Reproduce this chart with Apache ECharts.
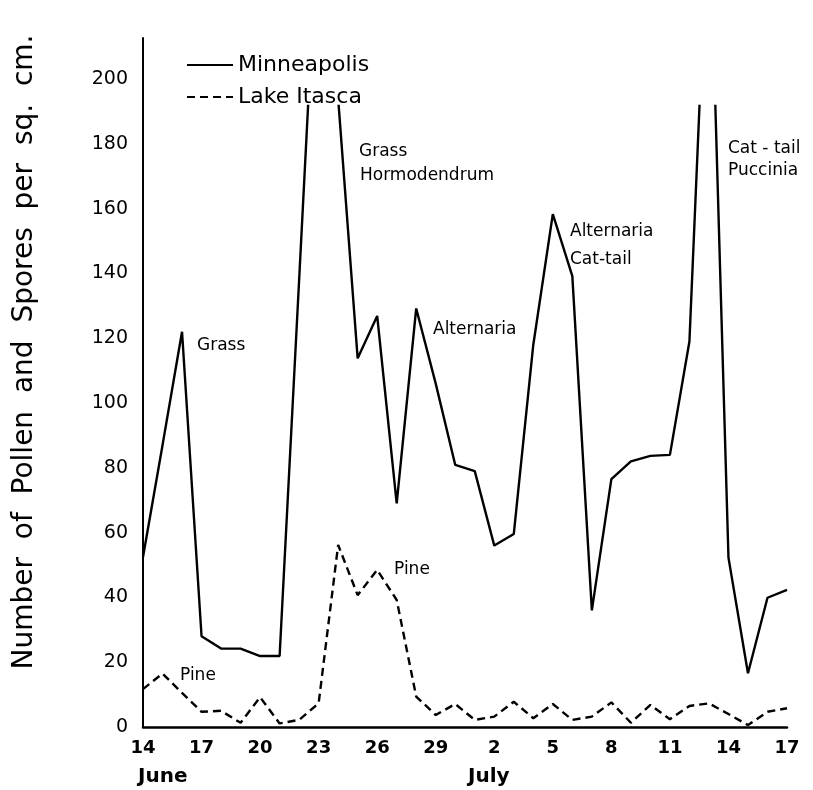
<!DOCTYPE html>
<html lang="en">
<head>
<meta charset="UTF-8">
<title>Pollen and Spores</title>
<script src="https://cdn.jsdelivr.net/npm/echarts@6/dist/echarts.min.js"></script>
<style>
  html, body { margin: 0; padding: 0; background: #fff; }
  #main { width: 813px; height: 790px; }
</style>
</head>
<body>
<div id="main"></div>
<script>
// one value per day, 14 June .. 17 July
var days = ['14','15','16','17','18','19','20','21','22','23','24','25','26','27','28','29','30',
            '1','2','3','4','5','6','7','8','9','10','11','12','13','14','15','16','17'];
var months = ['June', 'July'];
// Minneapolis: peaks above ~192 run off the top of the drawing
var minneapolis = [52.5, 87, 122, 28, 24.2, 24.2, 21.9, 21.9, 138, 255, 194, 113.8, 126.9, 69, 129.2, 106, 80.9,
                   79, 56, 59.6, 118, 158.3, 139.2, 36, 76.5, 82, 83.7, 84, 119, 260, 52.3, 16.6, 39.9, 42.3];
var lakeItasca = [11.7, 16.5, 10.5, 4.7, 5, 1.3, 9.2, 1.1, 2.2, 7.3, 56.2, 40.7, 48.5, 39.2, 9.4, 3.7, 7.1,
                  2.2, 3.2, 7.8, 2.7, 7.1, 2.2, 3.2, 7.6, 1.3, 6.8, 2.4, 6.5, 7.3, 4, 0.6, 4.7, 5.8];

var FONT = '"DejaVu Sans", "Liberation Sans", sans-serif';
var yTop = 212.7;   // top of drawn axis
var yClip = 191.7;  // where the curves stop

var chart = echarts.init(document.getElementById('main'));

// notes written beside the peaks
var notes = [
  {t: 'Grass', x: 197, y: 346},
  {t: 'Grass', x: 359, y: 152},
  {t: 'Hormodendrum', x: 360, y: 176},
  {t: 'Alternaria', x: 433, y: 330},
  {t: 'Alternaria', x: 570, y: 232},
  {t: 'Cat-tail', x: 570, y: 260},
  {t: 'Cat - tail', x: 728, y: 149},
  {t: 'Puccinia', x: 728, y: 171},
  {t: 'Pine', x: 180, y: 676},
  {t: 'Pine', x: 394, y: 570}
];
var graphics = notes.map(function (n) {
  return {type: 'text', x: n.x, y: n.y,
    style: {text: n.t, fill: '#000', font: '17px ' + FONT, textVerticalAlign: 'middle'}};
});
graphics.push({type: 'text', x: 138, y: 777,
  style: {text: months[0], fill: '#000', font: 'bold 20px ' + FONT, textVerticalAlign: 'middle'}});
graphics.push({type: 'text', x: 468, y: 777,
  style: {text: months[1], fill: '#000', font: 'bold 20px ' + FONT, textVerticalAlign: 'middle'}});
graphics.push({type: 'text', x: 25, y: 352, rotation: Math.PI / 2,
  style: {text: 'Number  of  Pollen  and  Spores  per  sq.  cm.', fill: '#000', font: '28px ' + FONT,
          textAlign: 'center', textVerticalAlign: 'middle'}});

var option = {
  animation: false,
  backgroundColor: '#fff',
  grid: [
    {left: 143, right: 26, top: 38, bottom: 63},
    {left: 143, right: 26, top: 106, bottom: 63}
  ],
  xAxis: [
    {
      gridIndex: 0, type: 'category', data: days, boundaryGap: false,
      axisLine: {lineStyle: {color: '#000', width: 2.5}},
      axisTick: {show: false},
      splitLine: {show: false},
      axisLabel: {interval: 2, color: '#000', fontFamily: FONT, fontSize: 18, fontWeight: 'bold', margin: 12}
    },
    {gridIndex: 1, type: 'category', data: days, boundaryGap: false, show: false}
  ],
  yAxis: [
    {
      gridIndex: 0, type: 'value', min: 0, max: yTop, interval: 20,
      axisLine: {show: true, lineStyle: {color: '#000', width: 2}},
      axisTick: {show: false},
      splitLine: {show: false},
      axisLabel: {
        margin: 15, color: '#000', fontFamily: FONT, fontSize: 19,
        formatter: function (v) { return v % 20 === 0 ? String(v) : ''; }
      }
    },
    {gridIndex: 1, type: 'value', min: 0, max: yClip, show: false}
  ],
  legend: {
    orient: 'vertical', left: 181, top: 49,
    itemWidth: 46, itemHeight: 14, itemGap: 10,
    itemStyle: {opacity: 0},
    textStyle: {color: '#000', fontFamily: FONT, fontSize: 22},
    data: ['Minneapolis', 'Lake Itasca']
  },
  series: [
    {
      name: 'Minneapolis', type: 'line', xAxisIndex: 1, yAxisIndex: 1,
      data: minneapolis, symbol: 'none', clip: true,
      itemStyle: {color: '#000'},
      lineStyle: {color: '#000', width: 2.4}
    },
    {
      name: 'Lake Itasca', type: 'line', xAxisIndex: 1, yAxisIndex: 1,
      data: lakeItasca, symbol: 'none', clip: true,
      itemStyle: {color: '#000'},
      lineStyle: {color: '#000', width: 2.4, type: [8, 5]}
    }
  ],
  graphic: graphics
};
chart.setOption(option);
</script>
</body>
</html>
